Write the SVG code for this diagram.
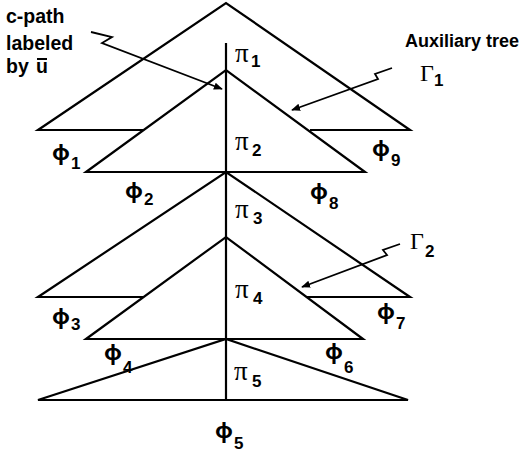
<svg xmlns="http://www.w3.org/2000/svg" width="526" height="452" viewBox="0 0 526 452">
<style>
.ln{fill:none;stroke:#000;stroke-width:2.2;stroke-linejoin:miter;stroke-linecap:butt}
.ar{fill:none;stroke:#000;stroke-width:1.8}
.lab{font-family:"Liberation Sans",Arial,sans-serif;font-weight:bold;font-size:19.5px;fill:#000}
.aux{font-family:"Liberation Sans",Arial,sans-serif;font-weight:bold;font-size:18px;fill:#000}
.phi{font-family:"Noto Sans","DejaVu Sans",sans-serif;font-weight:bold;font-size:22px;fill:#000}
.sub{font-family:"Liberation Sans",Arial,sans-serif;font-weight:bold;font-size:17px;fill:#000}
.pi{font-family:"Liberation Serif","Times New Roman",serif;font-size:27px;fill:#000}
.gam{font-family:"Liberation Serif","Times New Roman",serif;font-size:24px;fill:#000}
</style>
<defs>
<marker id="ah" viewBox="0 0 10 10" refX="9" refY="5" markerWidth="5" markerHeight="5" orient="auto" markerUnits="strokeWidth">
<path d="M0,1 L10,5 L0,9 z" fill="#000"/>
</marker>
</defs>
<g id="connectors">
<g id="tree1-outer"><path class="ln" d="M143,130 L38,130 L226,3 L410,130 L310,130"/></g>
<g id="tree1-inner"><path class="ln" d="M86,172 L226,70 L365,172 Z"/></g>
<g id="tree2-outer"><path class="ln" d="M144,297 L38,297 L226,172 L410,297 L307,297"/></g>
<g id="tree2-inner"><path class="ln" d="M86,339 L226,237 L363,339 Z"/></g>
<g id="tree3"><path class="ln" d="M38,400 L226,339 L408,400 Z"/></g>
<g id="cpath"><path class="ln" d="M226,43 L226,400"/></g>
<path class="ar" d="M91,32 L112,37 L102,43 L222,89" marker-end="url(#ah)"/>
<path class="ar" d="M392,68 L375,74 L378,79 L292,110" marker-end="url(#ah)"/>
<path class="ar" d="M400,244 L383,250 L387,255 L302,287" marker-end="url(#ah)"/>
</g>
<g id="label-cpath">
<text class="lab" x="6" y="23">c-path</text>
<text class="lab" x="6" y="50">labeled</text>
<text class="lab" x="6" y="73">by</text>
<text class="lab" x="36" y="73">u</text>
<line x1="37" y1="59" x2="47" y2="59" stroke="#000" stroke-width="2"/>
</g>
<g id="label-aux">
<text class="aux" x="405" y="47">Auxiliary tree</text>
<text class="gam" x="420" y="81">Γ</text>
<text class="sub" x="434" y="86" font-size="13">1</text>
</g>
<g id="label-gamma2">
<text class="gam" x="410" y="249">Γ</text>
<text class="sub" x="425" y="257">2</text>
</g>
<g id="pi-labels">
<text class="pi" x="235" y="62">π</text><text class="sub" x="251" y="67" font-size="15">1</text>
<text class="pi" x="235" y="150">π</text><text class="sub" x="252" y="156">2</text>
<text class="pi" x="235" y="218">π</text><text class="sub" x="253" y="224">3</text>
<text class="pi" x="235" y="298">π</text><text class="sub" x="253" y="304">4</text>
<text class="pi" x="234" y="380">π</text><text class="sub" x="252" y="387">5</text>
</g>
<g id="phi-labels">
<text class="phi" x="52" y="160">ϕ</text><text class="sub" x="71" y="169">1</text>
<text class="phi" x="125" y="198">ϕ</text><text class="sub" x="144" y="205">2</text>
<text class="phi" x="52" y="324">ϕ</text><text class="sub" x="71" y="330">3</text>
<text class="phi" x="104" y="360">ϕ</text><text class="sub" x="123" y="373">4</text>
<text class="phi" x="215" y="438">ϕ</text><text class="sub" x="234" y="449">5</text>
<text class="phi" x="325" y="359">ϕ</text><text class="sub" x="344" y="373">6</text>
<text class="phi" x="377" y="319">ϕ</text><text class="sub" x="396" y="329">7</text>
<text class="phi" x="310" y="199">ϕ</text><text class="sub" x="329" y="209">8</text>
<text class="phi" x="372" y="156">ϕ</text><text class="sub" x="391" y="166">9</text>
</g>
</svg>
